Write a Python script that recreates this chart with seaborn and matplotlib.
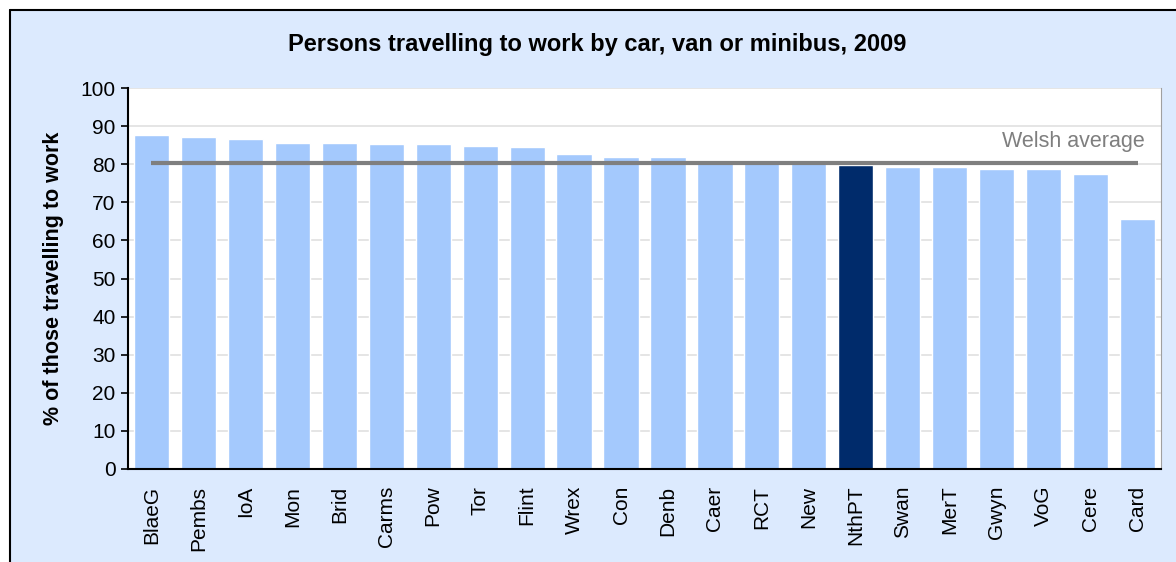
import matplotlib
matplotlib.use("Agg")
import matplotlib.pyplot as plt
import seaborn as sns
from matplotlib.patches import Rectangle
from matplotlib.lines import Line2D

# Data
areas = ["BlaeG", "Pembs", "IoA", "Mon", "Brid", "Carms", "Pow", "Tor", "Flint", "Wrex", "Con",
         "Denb", "Caer", "RCT", "New", "NthPT", "Swan", "MerT", "Gwyn", "VoG", "Cere", "Card"]
pct_car = [87.6, 87.1, 86.6, 85.6, 85.6, 85.2, 85.2, 84.7, 84.6, 82.7, 81.8,
           81.8, 80.3, 80.3, 80.3, 79.9, 79.2, 79.2, 78.8, 78.8, 77.3, 65.5]
welsh_avg = 80.3
highlight = "NthPT"

light_blue = "#A4C9FD"
dark_blue = "#002B6B"
bg_blue = "#DCEAFE"

sns.set_style("white")
plt.rcParams["font.family"] = ["Liberation Sans", "DejaVu Sans"]
plt.rcParams["text.color"] = "black"
plt.rcParams["axes.labelcolor"] = "black"
plt.rcParams["xtick.color"] = "black"
plt.rcParams["ytick.color"] = "black"

fig = plt.figure(figsize=(11.76, 5.62), dpi=100)
fig.patch.set_facecolor(bg_blue)

# white margin + black frame of the chart area (top and left edges visible)
fig.patches.append(Rectangle((0, 1 - 10 / 562), 1, 10 / 562, transform=fig.transFigure,
                             facecolor="white", edgecolor="none", zorder=-2))
fig.patches.append(Rectangle((0, 0), 10 / 1176, 1, transform=fig.transFigure,
                             facecolor="white", edgecolor="none", zorder=-2))
fig.lines.append(Line2D([10 / 1176, 1], [1 - 10 / 562] * 2, transform=fig.transFigure,
                        color="black", lw=1.5))
fig.lines.append(Line2D([10 / 1176] * 2, [0, 1 - 10 / 562], transform=fig.transFigure,
                        color="black", lw=1.5))

ax = fig.add_axes([128 / 1176, 1 - 469 / 562, (1161 - 128) / 1176, (469 - 88) / 562])
ax.set_facecolor("white")

colors = [dark_blue if a == highlight else light_blue for a in areas]
sns.barplot(x=areas, y=pct_car, hue=areas, palette=colors, legend=False,
            width=0.75, ax=ax, zorder=2, saturation=1)

ax.hlines(welsh_avg, 0, len(areas) - 1, color="#7F7F7F", lw=3, zorder=3)
ax.text(len(areas) - 0.85, welsh_avg + 3, "Welsh average", ha="right", va="bottom",
        color="#7F7F7F", fontsize=15.5)

ax.set_ylim(0, 100)
ax.set_xlim(-0.5, len(areas) - 0.5)
ax.set_yticks(range(0, 101, 10))
ax.yaxis.grid(True, color="#E0E0E0", lw=1.2, zorder=0)
ax.set_axisbelow(True)

ax.spines["top"].set_visible(False)
ax.spines["right"].set_color("#A0A0A0")
ax.spines["left"].set_color("black")
ax.spines["bottom"].set_color("black")
ax.spines["left"].set_linewidth(1.5)
ax.spines["bottom"].set_linewidth(1.5)

ax.tick_params(axis="y", direction="out", length=5, width=1.2, color="black",
               left=True, labelsize=15, pad=4)
ax.tick_params(axis="x", length=0, labelsize=15, pad=12)
plt.setp(ax.get_xticklabels(), rotation=90)

ax.set_ylabel("% of those travelling to work", fontsize=15.5, fontweight="bold", labelpad=12)
ax.set_xlabel("")
fig.suptitle("Persons travelling to work by car, van or minibus, 2009", x=597 / 1176,
             y=1 - 45 / 562, va="center", fontsize=17, fontweight="bold", color="black")

fig.savefig("out.png", dpi=100, facecolor=fig.get_facecolor())
